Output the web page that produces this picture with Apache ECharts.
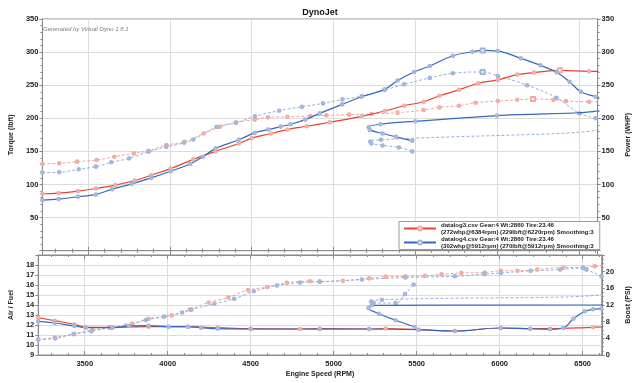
<!DOCTYPE html>
<html><head><meta charset="utf-8">
<script src="https://cdn.jsdelivr.net/npm/echarts@6/dist/echarts.min.js"></script>
<style>html,body{margin:0;padding:0;background:#fff}#c{width:640px;height:383px}</style>
</head><body><div id="c"></div>
<script>
// ---- data (rpm, value) ----
const rpmRange = [3220, 6615];
const titleText = 'DynoJet';
const creditText = 'Generated by Virtual Dyno 1.8.1';
const legendLog3 = ['datalog3.csv Gear:4 Wt:2860 Tire:23.46', '(272whp@6384rpm) (229lbft@6220rpm) Smoothing:3'];
const legendLog4 = ['datalog4.csv Gear:4 Wt:2860 Tire:23.46', '(302whp@5912rpm) (270lbft@5912rpm) Smoothing:3'];
const peaks = {log3Power: 6384, log3Torque: 6220, log4Power: 5912, log4Torque: 5912};

const log3Power = [[3220,86],[3319,87],[3438,90],[3547,94],[3666,99],[3785,106],[3885,114],[4004,124],[4143,138],[4279,150],[4421,162],[4500,170],[4619,177],[4718,183],[4837,188],[4976,194],[5172,203],[5313,211],[5432,219],[5551,225],[5648,234],[5767,243],[5886,253],[6005,258],[6124,266],[6226,269],[6384,272.5],[6563,271],[6620,271]];
const log3Torque = [[3220,131],[3323,132],[3432,134.5],[3552,137],[3660,142],[3779,147],[3869,151],[3978,159.5],[4087,164.5],[4206,177],[4305,187],[4404,194],[4519,198],[4599,201.5],[4718,202.3],[4857,203.5],[4956,204.5],[5095,205.5],[5232,206.5],[5392,208.5],[5551,212.5],[5648,216.5],[5767,219],[5869,223.5],[6005,226],[6124,228],[6220,229],[6345,228],[6422,226],[6563,225],[6620,225]];
const log4Power = [[3220,76.5],[3319,78],[3438,81.5],[3547,85],[3647,93],[3766,101],[3885,110],[4004,120],[4123,131],[4202,142],[4279,154.6],[4421,167.5],[4518,178],[4601,183],[4678,187.5],[4738,191],[4827,198],[4916,207.5],[5053,221],[5172,232.5],[5313,243.7],[5392,257],[5492,270],[5589,279],[5730,294.5],[5849,300.5],[5912,302.5],[6005,301.5],[6146,290.5],[6266,280],[6364,269.5],[6444,255],[6513,240],[6602,232.5],[6640,229],[6640,214.5],[6000,204],[5500,195.5],[5287,191],[5215,186.5],[5222,182.5],[5300,177],[5382,172],[5482,166]];
const log4Torque = [[3220,118],[3323,118.4],[3442,123],[3547,127],[3641,133.5],[3750,139.5],[3869,149.5],[3978,157],[4087,163],[4143,168],[4285,187],[4404,193],[4519,203],[4668,211.5],[4807,217.5],[4936,222.5],[5055,228.6],[5174,233.6],[5313,242.7],[5432,251.3],[5589,261],[5730,268],[5912,270],[6005,264],[6184,250],[6364,231],[6504,207.5],[6603,200],[6640,197],[6640,185.5],[5290,167.5],[5225,165],[5232,162],[5300,159],[5400,156],[5482,150]];

const log3AF = [[3220,12.73],[3319,12.43],[3438,12.07],[3502,11.8],[3666,11.77],[3885,11.83],[4123,11.83],[4301,11.73],[4500,11.63],[4797,11.6],[4916,11.63],[5214,11.6],[5313,11.65],[5512,11.53],[5730,11.4],[6007,11.7],[6184,11.63],[6303,11.63],[6563,11.77],[6620,11.8]];
const log4AF = [[3220,12.37],[3319,12.2],[3438,11.9],[3507,11.73],[3666,11.73],[3766,11.9],[3885,11.93],[4004,11.83],[4123,11.83],[4202,11.73],[4301,11.63],[4500,11.6],[4916,11.6],[5214,11.6],[5512,11.53],[5730,11.4],[6007,11.7],[6184,11.63],[6303,11.57],[6384,11.7],[6444,12.63],[6513,13.37],[6563,13.57],[6613,13.63],[6640,13.7],[6640,14.0],[5230,13.97],[5210,13.7],[5273,13.13],[5373,12.47],[5488,11.8]];
const log3Boost = [[3220,3.7],[3319,4.2],[3438,5.1],[3547,6.0],[3660,6.5],[3785,7.5],[3885,8.7],[4024,9.5],[4133,10.9],[4246,12.6],[4365,13.8],[4484,15.6],[4600,16.3],[4718,17.3],[4857,17.7],[4916,17.6],[5055,17.8],[5214,18.4],[5313,18.8],[5432,18.9],[5551,19.0],[5650,19.35],[5769,19.7],[5909,19.8],[6007,20.2],[6107,20.2],[6226,20.5],[6384,21.0],[6503,21.0],[6573,21.3],[6620,21.4]];
const log4Boost = [[3220,3.7],[3323,4.0],[3432,5.0],[3540,5.7],[3649,6.6],[3748,7.0],[3869,8.4],[3978,9.2],[4087,10.2],[4143,10.9],[4281,12.3],[4400,13.5],[4519,15.3],[4658,16.7],[4797,17.4],[4916,17.6],[5170,18.1],[5432,18.6],[5730,18.9],[5909,19.4],[6007,19.7],[6186,20.2],[6364,20.5],[6503,20.9],[6523,20.5],[6613,18.9],[6640,18.4],[6640,15.0],[5290,13.25],[5225,12.85],[5240,12.55],[5373,12.45],[5430,14.6],[5482,16.9]];

// ---- styling ----
const FONT = 'Liberation Sans, Arial, sans-serif';
const RED = '#e8412e', RED_D = '#ef9b96', BLUE = '#3768bb', BLUE_D = '#8ba6d7';
const RED_M = '#f2aaa4', BLUE_M = '#9fb5de';
const nameLog3 = legendLog3.join('\n'), nameLog4 = legendLog4.join('\n');

function withPeak(arr, peak) {
  return arr.map(p => p[0] === peak ? {value: p, symbol: 'emptyRect', symbolSize: 4} : p);
}
function line(name, data, color, mcolor, dashed, xi, yi) {
  return {
    name, type: 'line', data, xAxisIndex: xi, yAxisIndex: yi,
    smooth: 0.4, symbol: 'emptyCircle', symbolSize: 2.6, showAllSymbol: true,
    lineStyle: {color, width: dashed ? 0.9 : 1.2, type: dashed ? [3, 2] : 'solid'},
    itemStyle: {color: mcolor, borderColor: mcolor, borderWidth: 0.6},
    emphasis: {disabled: true}, animation: false, z: dashed ? 3 : 4
  };
}
const tickLbl = {fontSize: 7.5, fontWeight: 'bold', color: '#222', fontFamily: FONT};
const nameStyle = {fontSize: 7, fontWeight: 'bold', color: '#222', fontFamily: FONT};
const gridLine = {show: true, lineStyle: {color: '#dcdcdc', width: 1}};
const axLine = {show: true, lineStyle: {color: '#8a8a8a', width: 1}};

function xAx(grid, position, labels, split) {
  return {
    type: 'value', gridIndex: grid, position, min: rpmRange[0], max: rpmRange[1], splitNumber: 7,
    axisLine: axLine,
    axisTick: {show: true, inside: true, length: 4, lineStyle: {color: '#8a8a8a'}},
    minorTick: {show: true, splitNumber: 5, length: 2, lineStyle: {color: '#8a8a8a'}},
    axisLabel: labels ? Object.assign({show: true, margin: 5, showMinLabel: false, showMaxLabel: false, formatter: v => String(v)}, tickLbl) : {show: false},
    splitLine: split ? gridLine : {show: false},
    name: labels ? 'Engine Speed (RPM)' : '', nameLocation: 'middle', nameGap: 16, nameTextStyle: nameStyle
  };
}
function yAx(grid, position, min, max, interval, name, split, minorSplit, hideMax) {
  return {
    type: 'value', gridIndex: grid, position, min, max, interval,
    axisLine: axLine,
    axisTick: {show: true, length: 3, lineStyle: {color: '#8a8a8a'}},
    minorTick: {show: minorSplit > 0, splitNumber: minorSplit || 5, length: 2, lineStyle: {color: '#8a8a8a'}},
    axisLabel: Object.assign({margin: 4, formatter: v => (v === max && hideMax) || (v === 0 && !hideMax) ? '' : String(v)}, tickLbl),
    splitLine: split ? gridLine : {show: false},
    name, nameLocation: 'middle', nameGap: 20, nameRotate: 90, nameTextStyle: nameStyle
  };
}

const option = {
  backgroundColor: '#fff',
  animation: false,
  title: [
    {text: titleText, left: 'center', top: 3, textStyle: {fontSize: 9, fontWeight: 'bold', color: '#111', fontFamily: FONT}},
    {text: creditText, left: 38, top: 21, textStyle: {fontSize: 6, fontStyle: 'italic', fontWeight: 'normal', color: '#7a7a7a', fontFamily: FONT}}
  ],
  legend: {
    data: [nameLog3, nameLog4], orient: 'vertical', left: 399, top: 221.5,
    itemWidth: 32, itemHeight: 5, itemGap: 0, padding: [0, 6, 0, 4],
    backgroundColor: '#fff', borderColor: '#9a9a9a', borderWidth: 1,
    selectedMode: false,
    textStyle: {fontSize: 6.1, fontWeight: 'bold', lineHeight: 7, color: '#222', fontFamily: FONT}
  },
  grid: [
    {left: 35, top: 19, width: 571, height: 231.7, show: true, borderColor: '#8a8a8a', borderWidth: 1},
    {left: 35, top: 255, width: 571, height: 100, show: true, borderColor: '#8a8a8a', borderWidth: 1}
  ],
  xAxis: [xAx(0, 'bottom', false, true), xAx(0, 'top', false, false), xAx(1, 'bottom', true, true), xAx(1, 'top', false, false)],
  yAxis: [
    yAx(0, 'left', 0, 350, 50, 'Torque (lbft)', true, 5, false),
    yAx(0, 'right', 0, 350, 50, 'Power (WHP)', false, 5, false),
    yAx(1, 'left', 9, 19, 1, 'Air / Fuel', true, 0, true),
    yAx(1, 'right', 0, 24, 4, 'Boost (PSI)', false, 4, true)
  ],
  series: [
    line('log3 torque', withPeak(log3Torque, peaks.log3Torque), RED_D, RED_M, true, 0, 0),
    line('log4 torque', withPeak(log4Torque, peaks.log4Torque), BLUE_D, BLUE_M, true, 0, 0),
    line(nameLog3, withPeak(log3Power, peaks.log3Power), RED, RED_M, false, 0, 1),
    line(nameLog4, withPeak(log4Power, peaks.log4Power), BLUE, BLUE_M, false, 0, 1),
    line('log3 boost', log3Boost, RED_D, RED_M, true, 2, 3),
    line('log4 boost', log4Boost, BLUE_D, BLUE_M, true, 2, 3),
    line('log3 af', log3AF, RED, RED_M, false, 2, 2),
    line('log4 af', log4AF, BLUE, BLUE_M, false, 2, 2)
  ]
};
const chart = echarts.init(document.getElementById('c'), null, {renderer: 'canvas'});
chart.setOption(option);
</script>
</body></html>
